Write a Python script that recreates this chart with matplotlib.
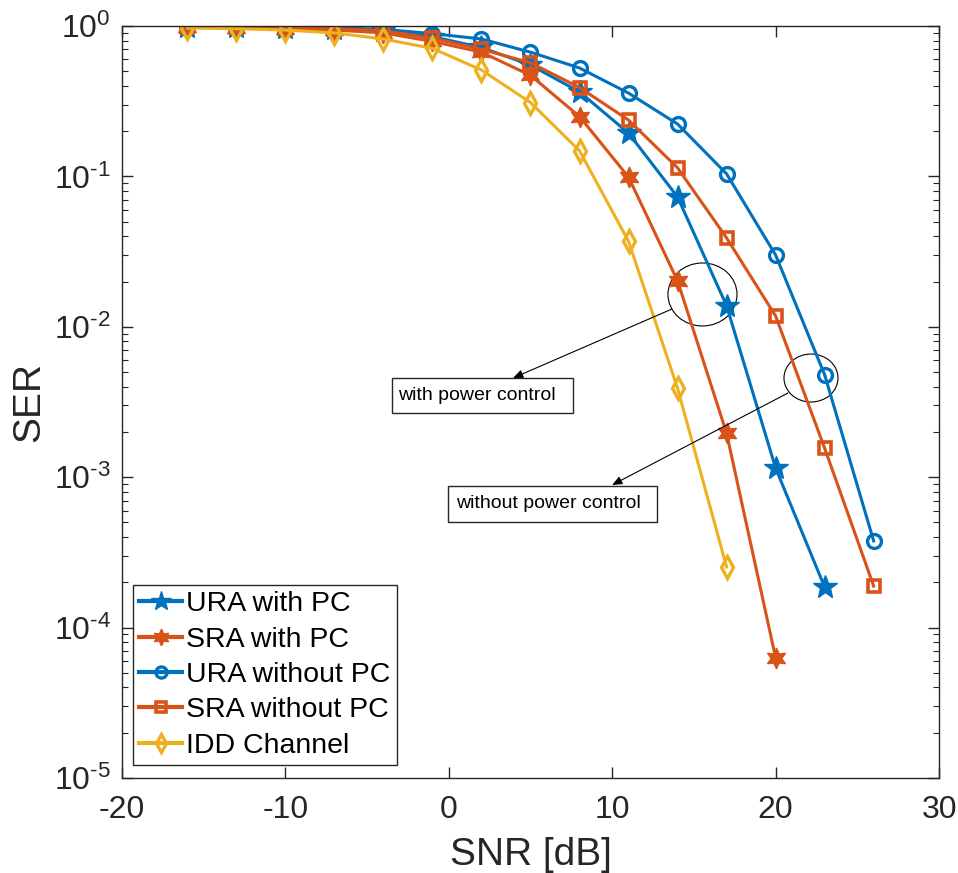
import matplotlib
matplotlib.use("Agg")
import matplotlib.pyplot as plt
from matplotlib.patches import Ellipse, Rectangle
from matplotlib.ticker import LogLocator, NullFormatter, FixedLocator, FuncFormatter
import numpy as np

plt.rcParams['font.family'] = ['Liberation Sans', 'DejaVu Sans']
plt.rcParams['mathtext.fontset'] = 'custom'
plt.rcParams['mathtext.rm'] = 'Liberation Sans'
plt.rcParams['mathtext.default'] = 'regular'
plt.rcParams['axes.unicode_minus'] = False

# SNR grid (dB) and symbol error rates for each scheme
snr = [-16, -13, -10, -7, -4, -1, 2, 5, 8, 11, 14, 17, 20, 23, 26]

ser_ura_pc = [0.99, 0.985, 0.975, 0.96, 0.92, 0.85, 0.72, 0.55, 0.365,
              0.194, 0.073, 0.0138, 0.00115, 1.86e-4]
ser_sra_pc = [0.98, 0.975, 0.96, 0.94, 0.90, 0.79, 0.67, 0.47, 0.25,
              0.099, 0.0202, 0.00196, 6.3e-5]
ser_ura_nopc = [0.995, 0.99, 0.985, 0.975, 0.95, 0.89, 0.82, 0.67, 0.526,
                0.358, 0.223, 0.104, 0.030, 0.0048, 3.77e-4]
ser_sra_nopc = [0.99, 0.985, 0.975, 0.96, 0.93, 0.83, 0.70, 0.57, 0.39,
                0.237, 0.114, 0.039, 0.0118, 0.00156, 1.89e-4]
ser_idd = [0.97, 0.96, 0.94, 0.90, 0.82, 0.71, 0.51, 0.31, 0.148,
           0.037, 0.0039, 2.53e-4]

labels = ['URA with PC', 'SRA with PC', 'URA without PC',
          'SRA without PC', 'IDD Channel']

blue = '#0072BD'
orange = '#D95319'
yellow = '#EDB120'
dark = '#262626'


def pow10_label(v, pos):
    e = int(round(np.log10(v)))
    if e < 0:
        return r'$10^{\text{-}%d}$' % (-e)
    return r'$10^{%d}$' % e


fig = plt.figure(figsize=(9.58, 8.73), dpi=100)
ax = fig.add_axes([0.1273, 0.1088, 0.8529, 0.8614])

lw = 2.2
ax.plot(snr[:len(ser_ura_pc)], ser_ura_pc, color=blue, lw=lw, marker='*',
        ms=18, mfc=blue, mec=blue, mew=1, label=labels[0])
ax.plot(snr[:len(ser_sra_pc)], ser_sra_pc, color=orange, lw=lw, marker=(6, 1, 0),
        ms=15, mfc=orange, mec=orange, mew=1, label=labels[1])
ax.plot(snr, ser_ura_nopc, color=blue, lw=lw, marker='o',
        ms=10, mfc='none', mec=blue, mew=2.4, label=labels[2])
ax.plot(snr, ser_sra_nopc, color=orange, lw=lw, marker='s',
        ms=8.5, mfc='none', mec=orange, mew=2.6, label=labels[3])
ax.plot(snr[:len(ser_idd)], ser_idd, color=yellow, lw=lw, marker='d',
        ms=11, mfc='none', mec=yellow, mew=2.4, label=labels[4])

ax.set_yscale('log')
ax.set_xlim(-20, 30)
ax.set_ylim(1e-5, 1)
ax.xaxis.set_major_locator(FixedLocator([-20, -10, 0, 10, 20, 30]))
ax.yaxis.set_major_locator(LogLocator(base=10, numticks=10))
ax.yaxis.set_major_formatter(FuncFormatter(pow10_label))
ax.yaxis.set_minor_locator(LogLocator(base=10, subs=range(2, 10), numticks=20))
ax.yaxis.set_minor_formatter(NullFormatter())

ax.tick_params(which='both', direction='in', top=True, right=True,
               colors=dark, labelcolor=dark)
ax.tick_params(which='major', length=8, width=1.0, labelsize=23)
ax.tick_params(which='minor', length=4.5, width=0.8)
ax.tick_params(axis='x', pad=12)
ax.tick_params(axis='y', pad=8)
for sp in ax.spines.values():
    sp.set_color(dark)
    sp.set_linewidth(1.0)

ax.set_xlabel('SNR [dB]', fontsize=28, color=dark)
ax.set_ylabel('SER', fontsize=28, color=dark)
ax.xaxis.set_label_coords(0.5, -0.078)
ax.yaxis.set_label_coords(-0.091, 0.5)

leg = ax.legend(loc='lower left', bbox_to_anchor=(0.0135, 0.0173),
                borderaxespad=0, fontsize=20.5, frameon=True, fancybox=False,
                framealpha=1, edgecolor=dark, handlelength=1.5,
                handletextpad=0.15, labelspacing=0.33, borderpad=0.22,
                markerscale=0.8)
leg.get_frame().set_linewidth(1.0)
for h in leg.get_lines():
    h.set_linewidth(3)

# circled groups with arrows pointing to their captions
ax.add_patch(Ellipse((0.7105, 0.6430), 0.0845, 0.0838, transform=ax.transAxes,
                     fill=False, ec='black', lw=0.8))
ax.add_patch(Ellipse((0.8433, 0.5319), 0.0661, 0.0638, transform=ax.transAxes,
                     fill=False, ec='black', lw=0.8))
arrow = dict(arrowstyle='-|>,head_length=0.6,head_width=0.25', color='black',
             lw=0.8, shrinkA=0, shrinkB=0)
ax.annotate('', xy=(0.4786, 0.5319), xytext=(0.6732, 0.6237),
            xycoords='axes fraction', textcoords='axes fraction', arrowprops=arrow)
ax.annotate('', xy=(0.5998, 0.3896), xytext=(0.8152, 0.5120),
            xycoords='axes fraction', textcoords='axes fraction', arrowprops=arrow)

ax.add_patch(Rectangle((0.3305, 0.4854), 0.2215, 0.0465, transform=ax.transAxes,
                       fc='white', ec=dark, lw=1.0, zorder=4))
ax.text(0.3378, 0.5086, 'with power control', transform=ax.transAxes,
        fontsize=14, ha='left', va='center', color='black', zorder=5)
ax.add_patch(Rectangle((0.399, 0.3404), 0.2558, 0.0479, transform=ax.transAxes,
                       fc='white', ec=dark, lw=1.0, zorder=4))
ax.text(0.4084, 0.3644, 'without power control', transform=ax.transAxes,
        fontsize=14, ha='left', va='center', color='black', zorder=5)

fig.savefig('out.png', dpi=100)
